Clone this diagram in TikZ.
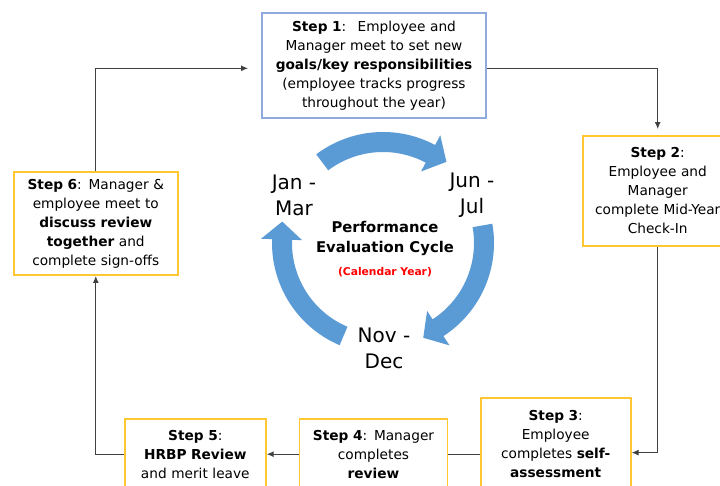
\documentclass[tikz,border=0pt]{standalone}
\usepackage{fontspec}
\setmainfont{DejaVu Sans}
\usepackage{tikz}
\usetikzlibrary{arrows.meta}
\definecolor{boxyellow}{RGB}{255,200,50}
\definecolor{boxblue}{RGB}{143,170,220}
\definecolor{cycblue}{RGB}{91,155,213}
\definecolor{linegray}{RGB}{64,64,64}
\tikzstyle{n}=[draw=boxyellow, line width=1.8pt, fill=white, align=center, inner sep=4pt, font=\fontsize{13.7}{19}\selectfont]
\tikzstyle{nb}=[n, draw=boxblue]
\tikzstyle{mon}=[align=center, font=\fontsize{20}{26}\selectfont]
\tikzstyle{cyc}=[fill=cycblue]
\tikzstyle{con}=[draw=linegray, line width=1.2pt, -{Latex[length=7pt,width=6pt]}]

\begin{document}
\begin{tikzpicture}[x=1pt, y=1pt]

 \useasboundingbox[fill=white] (0,0) rectangle (720,485);
 \clip (0,0) rectangle (720,485);

 % steps
 \node[nb, text width=216, minimum height=104.5] (s1) at (374,419.5)
 	{\textbf{Step 1}:~ Employee and\\Manager meet to set new\\\textbf{goals/key responsibilities}\\(employee tracks progress\\throughout the year)};
 \node[n, text width=142, minimum height=110] (s2) at (657.7,294)
 	{\textbf{Step 2}:\\Employee and\\Manager\\complete Mid-Year\\Check-In};
 \node[n, text width=142, minimum height=92, anchor=north] (s3) at (555.7,87.7)
 	{\textbf{Step 3}:\\Employee\\completes \textbf{self-}\\\textbf{assessment}};
 \node[n, text width=140, minimum height=70, anchor=north] (s4) at (373.5,66.7)
 	{\textbf{Step 4}: Manager\\completes\\\textbf{review}};
 \node[n, text width=133, minimum height=70, anchor=north] (s5) at (195.3,66.7)
 	{\textbf{Step 5}:\\\textbf{HRBP Review}\\and merit leave};
 \node[n, text width=155.7, minimum height=103.3] (s6) at (95.8,261.6)
 	{\textbf{Step 6}: Manager \&\\employee meet to\\\textbf{discuss review}\\\textbf{together} and\\complete sign-offs};

 % connectors
 \draw[con, shorten >=6pt] ([yshift=-2.8pt]s1.east) -| (s2.north);
 \draw[con] (s2.south) |- ([yshift=-8.4pt]s3.east);
 \draw[con, -] (s3.west |- s4.east) -- (s4.east);
 \draw[con] (s4.west) -- (s5.east);
 \draw[con] (s5.west) -| (s6.south);
 \draw[con, shorten >=13pt] (s6.north) |- ([yshift=-2.8pt]s1.west);

 % cycle
 \coordinate (c) at (383,242);
 \foreach \a/\b in {127/62, 10/-57, 247/178}
 	\fill[cyc] ([shift={(c)}]\a:111pt) arc[start angle=\a, end angle=\b, radius=111pt]
 		-- ([shift={(c)}]\b:122pt) -- ([shift={(c)}]\b-10:103pt) -- ([shift={(c)}]\b:81pt)
 		-- ([shift={(c)}]\b:91pt) arc[start angle=\b, end angle=\a, radius=91pt] -- cycle;

 \node[mon] (jan) at (294,290) {Jan -\\Mar};
 \node[mon] (jun) at (472,290) {Jun -\\Jul};
 \node[mon] (nov) at (384,137) {Nov -\\Dec};
 \node[align=center, font=\bfseries\fontsize{14.8}{20}\selectfont] (ttl) at (385,247) {Performance\\Evaluation Cycle};
 \node[text=red, font=\bfseries\fontsize{10.7}{13}\selectfont] (cal) at (385,213) {(Calendar Year)};

\end{tikzpicture}
\end{document}
